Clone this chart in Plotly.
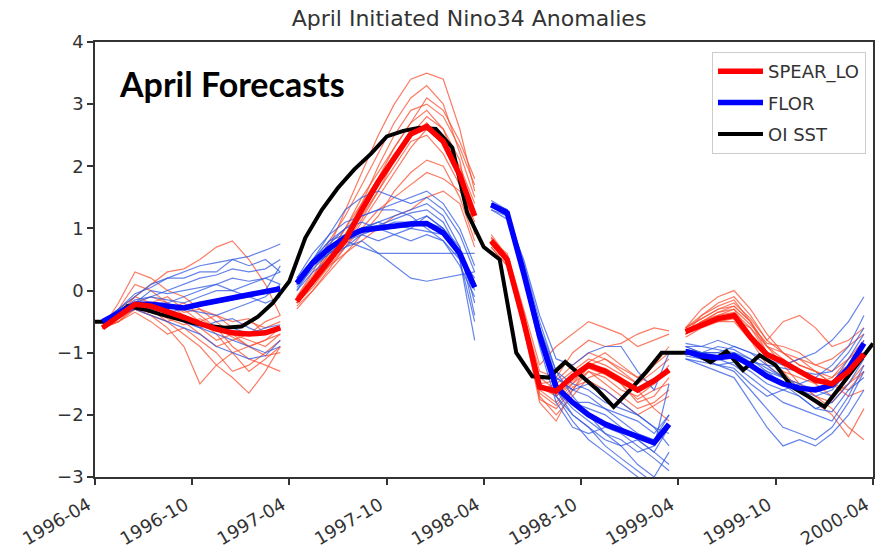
import pandas as pd
import plotly.graph_objects as go

# ---------------- data ----------------
TITLE = "April Initiated Nino34 Anomalies"
INIT_MONTHS = ["1996-04", "1997-04", "1998-04", "1999-04"]
TICK_LABELS = ["1996-04", "1996-10", "1997-04", "1997-10", "1998-04",
               "1998-10", "1999-04", "1999-10", "2000-04"]

# OI SST observed monthly anomalies, 1996-04 .. 2000-04
OBS_START = "1996-04"
OBS = [-0.5, -0.5, -0.25, -0.3, -0.38, -0.45, -0.52, -0.57, -0.6, -0.58, -0.42, -0.2,
       0.15, 0.85, 1.3, 1.65, 1.95, 2.2, 2.48, 2.57, 2.62, 2.6, 2.3, 1.25,
       0.7, 0.5, -1.0, -1.38, -1.4, -1.15, -1.38, -1.6, -1.87, -1.6, -1.3, -1.0,
       -1.0, -1.0, -1.15, -0.98, -1.28, -1.04, -1.2, -1.55, -1.7, -1.87, -1.53, -1.19,
       -0.85]

# ensemble means (12 leads per initialisation)
SPEAR_MEAN = [
    [-0.6, -0.4, -0.22, -0.25, -0.33, -0.43, -0.53, -0.62, -0.68, -0.7, -0.68, -0.6],
    [-0.17, 0.15, 0.48, 0.81, 1.3, 1.75, 2.13, 2.52, 2.64, 2.4, 1.86, 1.2],
    [0.8, 0.5, -0.5, -1.55, -1.62, -1.38, -1.2, -1.3, -1.45, -1.6, -1.45, -1.28],
    [-0.66, -0.55, -0.45, -0.4, -0.75, -1.03, -1.15, -1.3, -1.44, -1.5, -1.3, -1.02],
]
FLOR_MEAN = [
    [-0.5, -0.35, -0.22, -0.22, -0.25, -0.28, -0.22, -0.17, -0.12, -0.07, -0.02, 0.03],
    [0.12, 0.45, 0.68, 0.85, 0.97, 1.0, 1.05, 1.07, 1.08, 0.93, 0.6, 0.05],
    [1.38, 1.25, 0.28, -0.73, -1.55, -1.8, -2.0, -2.15, -2.25, -2.35, -2.45, -2.15],
    [-0.98, -1.05, -1.08, -1.05, -1.2, -1.38, -1.5, -1.57, -1.6, -1.52, -1.25, -0.85],
]

# ensemble members
SPEAR_MEMBERS = [
    [  # 1996-04
        [-0.6, -0.2, 0.3, 0.2, 0.0, -0.1, -0.3, -0.5, -0.7, -0.8, -0.9, -0.7],
        [-0.6, -0.4, -0.1, 0.1, 0.3, 0.35, 0.5, 0.7, 0.8, 0.5, 0.1, -0.4],
        [-0.6, -0.5, -0.3, -0.4, -0.6, -0.9, -1.5, -1.2, -1.0, -0.9, -0.8, -0.7],
        [-0.6, -0.4, -0.2, -0.3, -0.5, -0.7, -0.9, -1.2, -1.4, -1.65, -1.3, -0.9],
        [-0.6, -0.3, -0.1, -0.2, -0.3, -0.2, -0.4, -0.6, -0.9, -1.1, -1.2, -1.3],
        [-0.6, -0.5, -0.35, -0.5, -0.7, -0.6, -0.8, -1.0, -1.3, -1.2, -1.0, -0.8],
        [-0.6, -0.4, -0.25, -0.2, -0.1, -0.3, -0.5, -0.4, -0.6, -0.5, -0.6, -0.5],
        [-0.6, -0.45, -0.3, -0.4, -0.5, -0.4, -0.6, -0.8, -0.7, -0.9, -0.8, -0.6],
        [-0.6, -0.35, -0.2, -0.1, -0.2, -0.4, -0.5, -0.7, -1.0, -1.3, -1.1, -0.9],
        [-0.6, -0.4, -0.3, -0.35, -0.3, -0.5, -0.7, -0.9, -0.8, -0.7, -0.5, -0.4],
        [-0.6, -0.5, -0.25, -0.3, -0.45, -0.55, -0.45, -0.6, -0.75, -0.9, -1.05, -1.0],
        [-0.6, -0.3, 0.1, 0.0, -0.2, -0.35, -0.3, -0.4, -0.5, -0.45, -0.7, -0.6],
    ],
    [  # 1997-04
        [-0.2, 0.2, 0.7, 1.3, 1.9, 2.5, 3.0, 3.4, 3.5, 3.4, 2.6, 1.6],
        [-0.1, 0.3, 0.8, 1.2, 1.7, 2.2, 2.7, 3.1, 3.3, 3.0, 2.2, 1.5],
        [-0.2, 0.1, 0.5, 0.9, 1.4, 2.0, 2.5, 2.9, 3.0, 2.8, 2.3, 1.7],
        [-0.15, 0.2, 0.6, 1.0, 1.5, 1.9, 2.3, 2.7, 2.9, 2.6, 1.9, 1.2],
        [-0.2, 0.05, 0.4, 0.7, 1.1, 1.5, 1.9, 2.3, 2.6, 2.5, 1.8, 1.0],
        [-0.25, 0.0, 0.3, 0.6, 0.9, 1.2, 1.6, 1.9, 2.1, 2.0, 1.5, 0.8],
        [-0.2, 0.1, 0.4, 0.6, 0.8, 1.0, 1.2, 1.3, 1.5, 1.6, 1.4, 0.7],
        [-0.1, 0.25, 0.6, 1.0, 1.4, 1.8, 2.2, 2.5, 2.7, 2.4, 2.0, 1.4],
        [-0.2, 0.15, 0.5, 0.8, 1.2, 1.6, 2.0, 2.4, 2.5, 2.2, 1.7, 1.1],
        [-0.3, 0.0, 0.35, 0.7, 1.0, 1.3, 1.5, 1.7, 1.9, 1.8, 1.6, 1.2],
        [-0.15, 0.2, 0.55, 0.9, 1.3, 1.8, 2.3, 2.7, 3.1, 2.9, 2.4, 1.8],
        [-0.2, 0.1, 0.45, 0.75, 1.15, 1.6, 2.1, 2.5, 2.8, 2.6, 2.1, 0.9],
    ],
    [  # 1998-04
        [0.8, 0.6, -0.3, -1.2, -0.9, -0.7, -0.5, -0.6, -0.7, -0.9, -0.8, -0.7],
        [0.85, 0.5, -0.4, -1.3, -1.4, -1.0, -0.8, -0.9, -0.85, -0.7, -0.6, -0.65],
        [0.75, 0.45, -0.5, -1.6, -1.8, -1.5, -1.2, -1.1, -1.3, -1.5, -1.2, -1.0],
        [0.8, 0.5, -0.45, -1.7, -2.0, -1.7, -1.4, -1.3, -1.5, -1.8, -1.7, -1.4],
        [0.9, 0.55, -0.35, -1.5, -1.7, -1.5, -1.3, -1.5, -1.7, -1.9, -1.8, -1.6],
        [0.7, 0.4, -0.6, -1.8, -2.1, -1.6, -1.2, -1.25, -1.4, -1.6, -1.9, -2.1],
        [0.8, 0.5, -0.5, -1.6, -1.5, -1.3, -1.1, -1.2, -1.35, -1.5, -1.3, -1.1],
        [0.85, 0.55, -0.4, -1.4, -1.6, -1.4, -1.15, -1.0, -1.2, -1.4, -1.5, -1.3],
        [0.75, 0.45, -0.55, -1.75, -1.9, -1.6, -1.3, -1.4, -1.6, -1.7, -1.5, -1.2],
        [0.8, 0.5, -0.45, -1.55, -1.7, -1.45, -1.25, -1.35, -1.5, -1.75, -1.6, -1.5],
        [0.85, 0.5, -0.4, -1.5, -1.45, -1.2, -1.0, -1.1, -1.25, -1.4, -1.2, -0.9],
        [0.7, 0.4, -0.5, -1.65, -1.85, -1.55, -1.45, -1.6, -1.8, -2.0, -1.85, -1.7],
    ],
    [  # 1999-04
        [-0.6, -0.3, -0.1, 0.0, -0.3, -0.7, -1.0, -1.2, -1.3, -1.4, -1.1, -0.8],
        [-0.7, -0.4, -0.2, -0.1, -0.4, -0.8, -0.5, -0.4, -0.6, -0.9, -0.8, -0.6],
        [-0.65, -0.5, -0.35, -0.25, -0.5, -0.9, -1.2, -1.5, -1.7, -1.9, -2.2, -2.4],
        [-0.7, -0.55, -0.45, -0.4, -0.7, -1.1, -1.3, -1.6, -1.8, -2.0, -2.35, -1.9],
        [-0.6, -0.45, -0.3, -0.2, -0.45, -0.8, -1.0, -1.1, -1.2, -1.3, -1.1, -0.9],
        [-0.75, -0.6, -0.5, -0.45, -0.6, -0.9, -1.1, -1.3, -1.5, -1.4, -1.2, -1.1],
        [-0.6, -0.4, -0.25, -0.15, -0.5, -1.0, -1.2, -1.1, -1.3, -1.5, -1.6, -1.3],
        [-0.7, -0.5, -0.4, -0.3, -0.7, -1.1, -1.3, -1.4, -1.5, -1.7, -1.5, -1.2],
        [-0.65, -0.5, -0.35, -0.3, -0.55, -0.85, -0.9, -1.0, -1.2, -1.1, -0.9, -0.7],
        [-0.7, -0.55, -0.5, -0.5, -0.8, -1.2, -1.4, -1.5, -1.7, -1.8, -1.5, -1.3],
        [-0.6, -0.45, -0.3, -0.25, -0.5, -0.9, -1.0, -1.2, -1.3, -1.5, -1.4, -1.0],
        [-0.7, -0.5, -0.4, -0.35, -0.6, -1.0, -1.1, -1.3, -1.4, -1.5, -1.7, -1.6],
    ],
]

FLOR_MEMBERS = [
    [  # 1996-04
        [-0.5, -0.3, -0.1, 0.1, 0.2, 0.3, 0.4, 0.45, 0.5, 0.55, 0.65, 0.75],
        [-0.5, -0.3, -0.05, 0.05, 0.2, 0.2, 0.3, 0.3, 0.5, 0.4, 0.5, 0.3],
        [-0.5, -0.35, -0.2, -0.1, 0.0, 0.1, 0.2, 0.25, 0.35, 0.3, 0.35, 0.5],
        [-0.5, -0.4, -0.25, -0.2, -0.2, -0.1, 0.0, 0.1, 0.2, 0.15, 0.2, 0.3],
        [-0.5, -0.35, -0.3, -0.35, -0.4, -0.5, -0.6, -0.7, -0.8, -0.9, -1.0, -0.9],
        [-0.5, -0.4, -0.3, -0.4, -0.5, -0.6, -0.7, -0.9, -1.0, -1.1, -1.05, -0.8],
        [-0.5, -0.3, -0.2, -0.2, -0.3, -0.4, -0.5, -0.6, -0.6, -0.7, -0.6, -0.55],
        [-0.5, -0.35, -0.15, -0.1, -0.15, -0.2, -0.1, 0.0, 0.0, 0.1, 0.2, 0.1],
        [-0.5, -0.4, -0.3, -0.3, -0.35, -0.3, -0.25, -0.2, -0.15, -0.1, 0.0, 0.4],
        [-0.5, -0.3, -0.2, -0.25, -0.3, -0.5, -0.6, -0.5, -0.45, -0.6, -0.7, -0.6],
        [-0.5, -0.4, -0.2, 0.0, -0.05, 0.0, 0.05, 0.1, 0.0, -0.1, -0.2, -0.1],
        [-0.5, -0.35, -0.25, -0.3, -0.25, -0.3, -0.35, -0.4, -0.3, -0.2, -0.1, 0.1],
    ],
    [  # 1997-04
        [0.1, 0.5, 0.9, 1.3, 1.5, 1.6, 1.5, 1.4, 1.5, 1.3, 0.9, 0.3],
        [0.2, 0.6, 0.9, 1.1, 1.2, 1.3, 1.4, 1.5, 1.6, 1.4, 1.0, 0.4],
        [0.0, 0.4, 0.7, 0.9, 1.0, 1.1, 1.2, 1.3, 1.4, 1.2, 0.7, -0.2],
        [0.1, 0.4, 0.6, 0.8, 0.9, 0.8, 0.9, 1.0, 1.2, 1.0, 0.6, 0.0],
        [0.15, 0.5, 0.7, 0.8, 0.7, 0.6, 0.6, 0.6, 0.6, 0.6, 0.6, 0.6],
        [0.1, 0.4, 0.6, 0.7, 0.8, 0.6, 0.4, 0.2, 0.15, 0.2, 0.25, 0.3],
        [0.0, 0.3, 0.5, 0.7, 0.9, 1.0, 1.1, 1.1, 1.2, 1.0, 0.5, -0.8],
        [0.2, 0.5, 0.8, 0.9, 1.0, 1.1, 1.0, 1.1, 1.1, 1.0, 0.7, -0.4],
        [0.1, 0.45, 0.75, 1.0, 1.2, 1.3, 1.3, 1.2, 1.0, 0.8, 0.4, -0.1],
        [0.05, 0.35, 0.6, 0.8, 1.0, 1.05, 1.15, 1.25, 1.3, 1.1, 0.6, 0.1],
        [0.15, 0.5, 0.8, 1.0, 1.1, 1.0, 0.9, 0.8, 0.9, 0.8, 0.5, -0.5],
        [0.1, 0.4, 0.65, 0.85, 0.95, 1.0, 1.05, 1.0, 0.95, 0.9, 0.55, 0.2],
    ],
    [  # 1998-04
        [1.4, 1.2, 0.5, -0.4, -1.1, -1.2, -1.0, -0.9, -0.9, -1.3, -1.6, -1.0],
        [1.35, 1.3, 0.4, -0.6, -1.4, -1.6, -1.7, -1.9, -2.1, -2.3, -2.4, -2.0],
        [1.4, 1.25, 0.2, -0.8, -1.6, -2.0, -2.2, -2.5, -2.7, -2.9, -3.1, -3.2],
        [1.3, 1.2, 0.3, -0.7, -1.7, -2.1, -2.4, -2.6, -2.8, -3.0, -3.2, -3.3],
        [1.4, 1.3, 0.35, -0.65, -1.5, -1.8, -1.9, -2.0, -2.2, -2.4, -2.6, -2.8],
        [1.45, 1.3, 0.45, -0.5, -1.3, -1.5, -1.6, -1.8, -1.9, -2.0, -2.2, -2.3],
        [1.35, 1.2, 0.25, -0.75, -1.6, -1.9, -2.1, -2.3, -2.4, -2.6, -2.5, -1.5],
        [1.4, 1.25, 0.4, -0.6, -1.3, -1.7, -2.0, -2.3, -2.5, -2.8, -3.0, -2.6],
        [1.3, 1.15, 0.3, -0.7, -1.5, -1.8, -1.8, -1.9, -2.0, -2.1, -2.3, -2.0],
        [1.4, 1.3, 0.3, -0.8, -1.7, -2.0, -2.2, -2.4, -2.5, -2.4, -2.6, -2.2],
        [1.35, 1.25, 0.35, -0.6, -1.4, -1.6, -1.5, -1.6, -1.8, -2.0, -2.2, -2.5],
        [1.4, 1.2, 0.2, -0.9, -1.8, -2.2, -2.3, -2.2, -2.3, -2.5, -2.7, -2.9],
    ],
    [  # 1999-04
        [-0.9, -0.9, -0.8, -0.9, -1.0, -1.1, -1.2, -1.1, -1.0, -0.8, -0.5, -0.1],
        [-1.0, -1.1, -1.2, -1.3, -1.6, -1.9, -2.2, -2.3, -2.4, -2.2, -1.8, -1.3],
        [-1.1, -1.2, -1.3, -1.4, -1.8, -2.2, -2.5, -2.4, -2.5, -2.3, -2.0, -1.6],
        [-0.9, -1.0, -1.0, -0.9, -1.0, -1.2, -1.4, -1.5, -1.4, -1.2, -0.9, -0.4],
        [-1.0, -1.0, -1.1, -1.0, -1.2, -1.3, -1.4, -1.6, -1.7, -1.6, -1.3, -0.9],
        [-0.95, -1.0, -0.9, -0.95, -1.1, -1.3, -1.5, -1.7, -1.9, -1.8, -1.5, -1.1],
        [-1.05, -1.1, -1.2, -1.15, -1.3, -1.5, -1.6, -1.5, -1.6, -1.7, -1.4, -0.8],
        [-0.85, -0.9, -0.95, -1.0, -1.15, -1.2, -1.25, -1.3, -1.35, -1.3, -1.0, -0.6],
        [-1.0, -1.1, -1.1, -1.2, -1.4, -1.6, -1.8, -1.9, -2.0, -2.1, -1.7, -1.2],
        [-0.9, -1.0, -1.05, -1.0, -1.1, -1.25, -1.4, -1.55, -1.6, -1.5, -1.1, -0.7],
        [-1.1, -1.15, -1.2, -1.25, -1.5, -1.7, -1.6, -1.7, -1.9, -1.95, -1.6, -1.4],
        [-0.95, -1.0, -1.0, -1.1, -1.2, -1.35, -1.5, -1.6, -1.55, -1.5, -1.3, -1.0],
    ],
]

# ---------------- figure ----------------
def lead_dates(init):
    return pd.date_range(init + "-01", periods=12, freq="MS") + pd.Timedelta(days=14)

obs_dates = pd.date_range(OBS_START + "-01", periods=len(OBS), freq="MS")

fig = go.Figure()

for members_set, color in ((SPEAR_MEMBERS, "rgba(250,80,50,0.75)"),
                           (FLOR_MEMBERS, "rgba(50,90,225,0.75)")):
    for init, members in zip(INIT_MONTHS, members_set):
        x = lead_dates(init)
        for m in members:
            fig.add_trace(go.Scatter(x=x, y=m, mode="lines", showlegend=False,
                                     line=dict(color=color, width=1.2),
                                     hoverinfo="skip"))

fig.add_trace(go.Scatter(x=obs_dates, y=OBS, mode="lines", name="OI SST",
                         legendgroup="obs",
                         line=dict(color="black", width=4), legendrank=3))

for i, init in enumerate(INIT_MONTHS):
    fig.add_trace(go.Scatter(x=lead_dates(init), y=FLOR_MEAN[i], mode="lines",
                             name="FLOR", legendgroup="flor", showlegend=(i == 0),
                             line=dict(color="#0000ff", width=5.5), legendrank=2))
for i, init in enumerate(INIT_MONTHS):
    fig.add_trace(go.Scatter(x=lead_dates(init), y=SPEAR_MEAN[i], mode="lines",
                             name="SPEAR_LO", legendgroup="spear", showlegend=(i == 0),
                             line=dict(color="#ff0000", width=5.5), legendrank=1))

tick_vals = [pd.Timestamp(t + "-01") for t in TICK_LABELS]

fig.update_layout(
    width=875, height=551,
    margin=dict(l=95, r=2, t=42, b=74),
    plot_bgcolor="white", paper_bgcolor="white",
    font=dict(family="DejaVu Sans", color="#333333"),
    title=dict(text=TITLE, x=469 / 875, xanchor="center",
               y=1 - 18 / 551, yanchor="middle",
               font=dict(size=22, color="#333333")),
    showlegend=True,
    legend=dict(x=0.991, xanchor="right", y=0.977, yanchor="top",
                bgcolor="white", bordercolor="#cccccc", borderwidth=1,
                font=dict(size=18, color="#333333"), traceorder="grouped",
                tracegroupgap=5, itemwidth=45),
    xaxis=dict(range=[pd.Timestamp("1996-04-01"), pd.Timestamp("2000-04-01")],
               tickvals=tick_vals, ticktext=TICK_LABELS, tickangle=-30,
               ticklabeloverflow="allow", ticklabelshift=-7, ticklabelstandoff=3,
               ticks="outside", ticklen=6, tickwidth=1.5, tickcolor="#333",
               showline=True, linecolor="#333", linewidth=1.5, mirror=True,
               showgrid=False, zeroline=False, automargin=False,
               tickfont=dict(size=18, color="#333333")),
    yaxis=dict(range=[-3, 4], tickvals=[-3, -2, -1, 0, 1, 2, 3, 4],
               ticktext=["\u22123", "\u22122", "\u22121", "0", "1", "2", "3", "4"],
               ticks="outside", ticklen=6, tickwidth=1.5, tickcolor="#333",
               showline=True, linecolor="#333", linewidth=1.5, mirror=True,
               showgrid=False, zeroline=False, automargin=False,
               tickfont=dict(size=18, color="#333333")),
)

fig.add_annotation(text="<b>April Forecasts</b>", xref="paper", yref="paper",
                   x=(117 - 95) / 778, y=(477 - 83) / 435, xanchor="left",
                   yanchor="middle", showarrow=False,
                   font=dict(family="Lato", size=34, color="black"))

fig.write_html("out.html", config={"displayModeBar": False},
               post_script="document.body.style.margin='0';"
                           "document.body.style.overflow='hidden';")
